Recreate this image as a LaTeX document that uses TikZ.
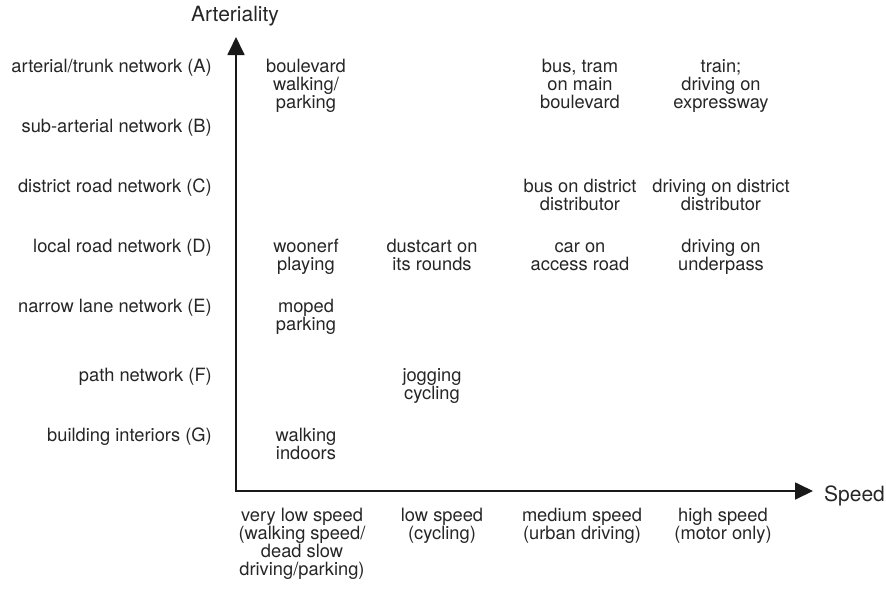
\documentclass[tikz,border=0pt]{standalone}
\usepackage{fontspec}
\setmainfont{TeX Gyre Heros}
\usetikzlibrary{arrows.meta}
\definecolor{ink}{gray}{0.15}
\begin{document}
\begin{tikzpicture}[x=1pt,y=-1pt,
  lab/.style={font=\fontsize{18.3}{18}\selectfont, text=ink, inner sep=0pt},
  ttl/.style={font=\fontsize{21}{21}\selectfont, text=ink, inner sep=0pt},
  rowlab/.style={lab, anchor=base east},
  cell/.style={lab, anchor=base, align=center},
  axis/.style={line width=1.8pt, draw=black!90, {Triangle[width=17pt,length=18pt]}-{Triangle[width=17pt,length=18pt]}}]
\useasboundingbox (0,0) rectangle (886,590);
\coordinate (origin) at (236,491);
\coordinate (ytip) at (236,37);
\coordinate (xtip) at (813,491);
\draw[axis] (ytip) -- (origin) -- (xtip);
\node[ttl, anchor=base] (ytitle) at (235,21) {Arteriality};
\node[ttl, anchor=base west] (xtitle) at (824,501) {Speed};
% row labels
\node[rowlab] (rA) at (212,72) {arterial/trunk network (A)};
\node[rowlab] (rB) at (212,132) {sub-arterial network (B)};
\node[rowlab] (rC) at (212,192) {district road network (C)};
\node[rowlab] (rD) at (212,252) {local road network (D)};
\node[rowlab] (rE) at (212,312) {narrow lane network (E)};
\node[rowlab] (rF) at (212,381) {path network (F)};
\node[rowlab] (rG) at (212,441) {building interiors (G)};
% cells (anchor = baseline of last line)
\node[cell] (a1) at (306,108) {boulevard\\walking/\\parking};
\node[cell] (a3) at (580,108) {bus, tram\\on main\\boulevard};
\node[cell] (a4) at (721,108) {train;\\driving on\\expressway};
\node[cell] (c3) at (580,210) {bus on district\\distributor};
\node[cell] (c4) at (721,210) {driving on district\\distributor};
\node[cell] (d1) at (306,270) {woonerf\\playing};
\node[cell] (d2) at (432,270) {dustcart on\\its rounds};
\node[cell] (d3) at (580,270) {car on\\access road};
\node[cell] (d4) at (721,270) {driving on\\underpass};
\node[cell] (e1) at (306,330) {moped\\parking};
\node[cell] (f2) at (432,399) {jogging\\cycling};
\node[cell] (g1) at (306,459) {walking\\indoors};
% speed labels
\node[cell] (s1) at (302,575) {very low speed\\(walking speed/\\dead slow\\driving/parking)};
\node[cell] (s2) at (442,539) {low speed\\(cycling)};
\node[cell] (s3) at (582,539) {medium speed\\(urban driving)};
\node[cell] (s4) at (723,539) {high speed\\(motor only)};
\end{tikzpicture}
\end{document}
